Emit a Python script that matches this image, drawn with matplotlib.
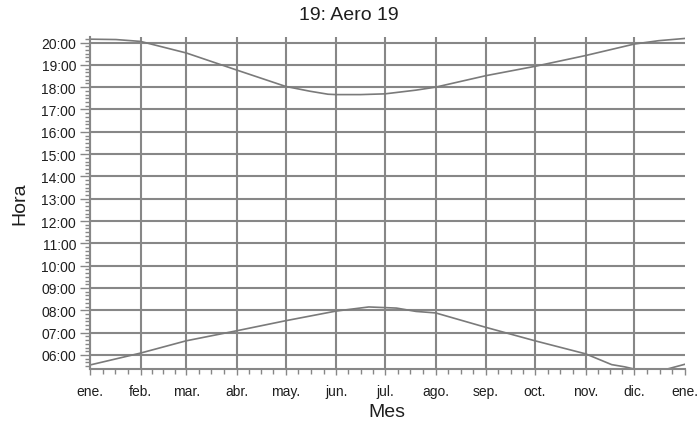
import matplotlib
matplotlib.use("Agg")
import matplotlib.pyplot as plt
import numpy as np

# month starts (day of year) and labels
MONTH_DAYS = [0, 31, 59, 90, 120, 151, 181, 212, 243, 273, 304, 334, 365]
MONTH_LABELS = ["ene.", "feb.", "mar.", "abr.", "may.", "jun.", "jul.",
                "ago.", "sep.", "oct.", "nov.", "dic.", "ene."]

# sunset (upper curve)
sunset_days = [0, 16, 31, 59, 90, 120, 135, 146, 151, 166, 181, 200, 212,
               243, 273, 304, 334, 349, 365]
sunset_times = ["20:09", "20:08", "20:03", "19:32", "18:46", "18:02", "17:49",
                "17:41", "17:40", "17:40", "17:42", "17:52", "18:00",
                "18:31", "18:56", "19:25", "19:56", "20:05", "20:11"]

# sunrise (lower curve)
sunrise_days = [0, 31, 59, 90, 120, 151, 171, 188, 200, 212, 243, 273, 304,
                320, 328, 336, 345, 354, 365]
sunrise_times = ["05:33", "06:05", "06:38", "07:05", "07:32", "07:58", "08:09",
                 "08:06", "07:57", "07:53", "07:14", "06:38", "06:03",
                 "05:34", "05:28", "05:20", "05:19", "05:22", "05:35"]

HOURS = list(range(6, 21))

GRIDCOL = "#878787"
LINECOL = "#7a7a7a"
TXTCOL = "#1e1e1e"
FONT = "Liberation Sans"


def to_hours(t):
    h, m = t.split(":")
    return int(h) + int(m) / 60.0


fig = plt.figure(figsize=(6.98, 4.27), dpi=100)
ax = fig.add_axes([90 / 698, 1 - 370 / 427, 595 / 698, 332.5 / 427])

ax.plot(sunset_days, [to_hours(t) for t in sunset_times], color=LINECOL, lw=1.2, zorder=3)
ax.plot(sunrise_days, [to_hours(t) for t in sunrise_times], color=LINECOL, lw=1.2, zorder=3)

ax.set_xlim(0, 365)
ax.set_ylim(5.37, 20.27)

ax.set_xticks(MONTH_DAYS)
ax.set_xticklabels(MONTH_LABELS)
minor_x = []
for a, b in zip(MONTH_DAYS[:-1], MONTH_DAYS[1:]):
    minor_x += [a + (b - a) * k / 4 for k in (1, 2, 3)]
ax.set_xticks(minor_x, minor=True)

ax.set_yticks(HOURS)
ax.set_yticklabels(["{:02d}:00".format(h) for h in HOURS])
ax.set_yticks(np.arange(5.5, 20.27, 1 / 6.0), minor=True)

ax.grid(True, which="major", color=GRIDCOL, lw=1.5, zorder=1)
ax.set_axisbelow(True)
ax.xaxis.get_gridlines()[-1].set_visible(False)

for s in ["top", "right"]:
    ax.spines[s].set_visible(False)
for s in ["left", "bottom"]:
    ax.spines[s].set_color(GRIDCOL)
    ax.spines[s].set_linewidth(1.5)
    ax.spines[s].set_zorder(4)

ax.tick_params(axis="both", which="both", colors=GRIDCOL, labelcolor=TXTCOL,
               direction="out", width=1.0)
ax.tick_params(axis="y", which="major", length=7, pad=3, labelsize=10)
ax.tick_params(axis="y", which="minor", length=3.5)
ax.tick_params(axis="x", which="major", length=4.5, pad=6, labelsize=10)
ax.tick_params(axis="x", which="minor", length=3.5)
for lab in ax.get_xticklabels() + ax.get_yticklabels():
    lab.set_fontname(FONT)

fig.text(0.5, 1 - 15 / 427, "19: Aero 19", ha="center", va="center",
         fontsize=14, color=TXTCOL, fontname=FONT)
fig.text(387 / 698, 1 - 413 / 427, "Mes", ha="center", va="center",
         fontsize=14, color=TXTCOL, fontname=FONT)
fig.text(20 / 698, 1 - 204 / 427, "Hora", ha="center", va="center",
         rotation=90, fontsize=14, color=TXTCOL, fontname=FONT)

fig.savefig("out.png", dpi=100, facecolor="white")
